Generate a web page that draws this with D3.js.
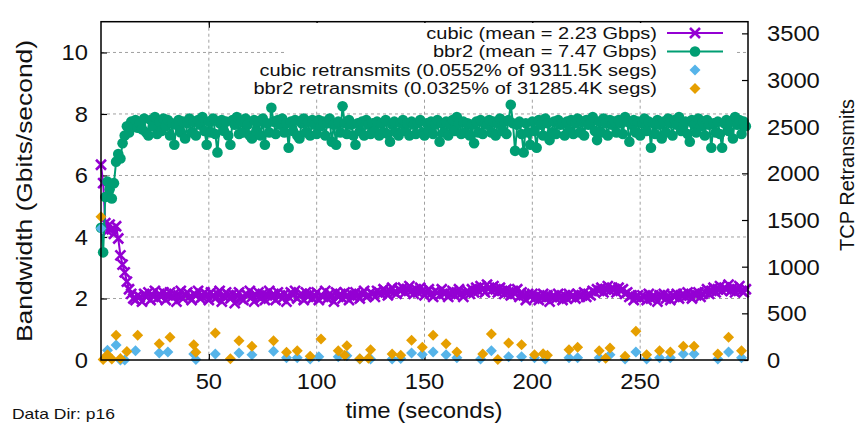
<!DOCTYPE html>
<html>
<head>
<meta charset="utf-8">
<script src="https://cdn.jsdelivr.net/npm/d3@7"></script>
<style>
  body { margin: 0; background: #fff; }
  svg { display: block; font-family: "Liberation Sans", Arial, sans-serif; }
</style>
</head>
<body>
<div class="chart"></div>
<script>
// frame
let FRAME_WIDTH = 858;
let FRAME_HEIGHT = 424;
let PLOT = {left: 101, right: 748, top: 21.7, bottom: 360};

// bandwidth samples, one per second starting at t = 0 (Gbit/s)
const CUBIC_BW = [
  6.35, 5.75, 4.45, 4.2, 4.4, 4.25, 4.1, 4.35, 3.95, 3.4,
  3.1, 2.85, 2.55, 2.3, 2.15, 2.0, 1.95, 2.1, 2.05, 1.9,
  2.15, 2.05, 2.2, 1.95, 2.1, 2.25, 2.0, 2.15, 2.05, 2.2,
  1.95, 2.1, 2.2, 2.05, 2.15, 1.9, 2.1, 2.25, 2.0, 2.1,
  2.2, 2.05, 1.95, 2.15, 2.1, 2.25, 2.0, 2.05, 2.2, 2.1,
  1.95, 2.2, 2.1, 2.0, 2.15, 2.25, 1.9, 2.05, 2.2, 2.1,
  2.0, 2.15, 1.85, 2.1, 2.2, 2.0, 1.95, 2.15, 2.1, 2.25,
  2.05, 1.9, 2.1, 2.2, 2.0, 2.15, 1.95, 2.1, 2.25, 2.05,
  2.15, 1.95, 2.2, 2.1, 2.0, 2.15, 1.9, 2.05, 2.2, 2.1,
  2.25, 2.0, 2.1, 2.15, 1.95, 2.2, 2.05, 2.15, 2.0, 2.1,
  2.2, 1.95, 2.1, 2.05, 2.25, 2.0, 2.15, 2.1, 1.9, 2.2,
  2.05, 2.15, 2.0, 2.2, 2.1, 1.95, 2.15, 2.05, 2.2, 2.1,
  2.0, 2.15, 2.25, 2.05, 2.1, 2.2, 2.15, 2.05, 2.25, 2.2,
  2.15, 2.3, 2.2, 2.1, 2.25, 2.35, 2.2, 2.15, 2.3, 2.25,
  2.35, 2.2, 2.3, 2.4, 2.25, 2.15, 2.3, 2.2, 2.35, 2.25,
  2.1, 2.2, 2.3, 2.15, 2.05, 2.25, 2.2, 2.1, 2.3, 2.15,
  2.2, 2.05, 2.15, 2.25, 2.1, 2.2, 2.3, 2.15, 2.05, 2.2,
  2.25, 2.15, 2.3, 2.2, 2.35, 2.25, 2.4, 2.3, 2.2, 2.45,
  2.35, 2.25, 2.4, 2.3, 2.2, 2.35, 2.25, 2.15, 2.3, 2.2,
  2.1, 2.25, 2.15, 2.3, 2.05, 2.2, 2.1, 1.95, 2.15, 2.05,
  2.15, 2.0, 2.1, 1.95, 2.05, 2.15, 2.0, 2.1, 1.9, 2.05,
  2.1, 2.0, 2.15, 2.05, 1.95, 2.1, 2.0, 2.15, 2.05, 2.1,
  2.0, 2.15, 2.05, 2.1, 2.2, 2.05, 2.15, 2.1, 2.25, 2.2,
  2.3, 2.25, 2.35, 2.2, 2.3, 2.4, 2.25, 2.35, 2.3, 2.2,
  2.35, 2.25, 2.3, 2.15, 2.2, 2.05, 2.1, 1.95, 2.05, 2.1,
  2.0, 2.1, 2.05, 1.95, 2.15, 2.0, 2.1, 2.05, 1.9, 2.1,
  2.05, 2.15, 2.0, 2.1, 1.95, 2.1, 2.05, 2.15, 2.0, 2.1,
  2.15, 2.05, 2.2, 2.1, 2.0, 2.15, 2.1, 2.2, 2.05, 2.15,
  2.2, 2.3, 2.15, 2.25, 2.35, 2.2, 2.3, 2.4, 2.25, 2.35,
  2.3, 2.45, 2.25, 2.35, 2.2, 2.3, 2.4, 2.25, 2.2, 2.3
];

const BBR2_BW = [
  4.3, 3.5, 5.3, 5.8, 5.55, 5.25, 5.75, 6.45, 6.7, 6.55,
  7.05, 7.3, 7.6, 7.4, 7.75, 7.6, 7.8, 7.55, 7.7, 7.5,
  7.85, 7.4, 7.3, 7.8, 7.6, 7.9, 7.35, 7.75, 7.45, 7.85,
  7.6, 7.8, 7.3, 7.7, 7.0, 7.65, 7.8, 7.4, 7.75, 7.2,
  7.7, 7.85, 7.4, 7.75, 7.3, 7.8, 7.65, 7.9, 7.45, 7.0,
  7.75, 7.4, 7.85, 7.35, 6.75, 7.7, 7.8, 7.45, 7.75, 7.3,
  7.0, 7.8, 7.65, 7.9, 7.35, 7.75, 7.4, 7.85, 7.65, 7.3,
  7.2, 7.8, 7.45, 7.75, 7.3, 7.85, 7.0, 7.7, 7.4, 8.2,
  7.75, 7.35, 7.8, 7.65, 7.85, 7.4, 7.7, 6.9, 7.75, 7.45,
  7.8, 7.3, 7.2, 7.7, 7.85, 7.4, 7.75, 7.3, 7.8, 7.65,
  7.35, 7.8, 7.6, 7.75, 7.3, 7.7, 7.85, 7.1, 7.65, 7.0,
  7.75, 7.4, 8.25, 7.7, 7.35, 7.8, 7.65, 7.3, 7.0, 7.7,
  7.45, 7.75, 7.3, 7.8, 7.65, 7.35, 7.7, 7.45, 7.75, 7.3,
  7.7, 7.4, 7.8, 7.35, 7.1, 7.65, 7.75, 7.4, 7.3, 7.7,
  7.8, 7.45, 7.7, 7.3, 7.75, 7.65, 7.35, 7.7, 7.8, 7.4,
  7.3, 7.7, 7.45, 7.75, 7.35, 7.65, 7.8, 7.1, 7.7, 7.4,
  7.75, 7.3, 7.65, 7.8, 7.45, 7.9, 7.7, 7.35, 7.75, 7.4,
  7.7, 7.3, 7.65, 7.05, 7.75, 7.4, 7.8, 7.35, 7.7, 7.65,
  7.8, 7.4, 7.75, 7.3, 7.7, 7.85, 7.45, 7.75, 7.35, 7.8,
  8.3, 7.7, 6.8, 7.65, 7.75, 7.35, 6.75, 7.7, 7.4, 7.0,
  7.75, 7.45, 6.9, 7.8, 7.65, 7.3, 7.85, 7.7, 7.15, 7.4,
  7.75, 7.35, 7.8, 7.65, 7.7, 7.3, 7.75, 7.45, 7.8, 7.35,
  7.7, 7.85, 7.4, 7.75, 7.3, 7.8, 7.65, 7.7, 7.9, 7.45,
  7.15, 7.75, 7.4, 7.85, 7.7, 7.3, 7.8, 7.65, 7.75, 7.4,
  7.8, 7.7, 7.35, 7.9, 7.75, 7.1, 7.65, 7.8, 7.4, 7.75,
  7.3, 7.7, 7.85, 7.45, 7.75, 6.9, 7.7, 7.35, 7.8, 7.65,
  7.2, 7.75, 7.4, 7.85, 7.7, 7.3, 7.8, 7.65, 7.9, 7.45,
  7.6, 7.75, 7.35, 7.1, 7.8, 7.65, 7.4, 7.85, 7.6, 7.75,
  7.3, 7.8, 7.65, 6.9, 7.7, 7.4, 7.75, 7.35, 6.9, 7.7,
  7.8, 7.45, 7.75, 7.2, 7.9, 7.65, 7.8, 7.35, 7.75, 7.6
];

// retransmits: seconds and counts
const CUBIC_RT_T = [0, 3, 7, 9, 11, 16, 27, 31, 43, 44, 53, 64, 70, 80, 86, 91, 97, 101, 110, 114,
  120, 125, 135, 139, 144, 149, 154, 160, 165, 176, 181, 189, 195, 201, 206, 217, 221, 231, 236, 243,
  248, 253, 259, 264, 270, 275, 286, 291, 297];
const CUBIC_RT_N = [1410, 105, 160, 0, 0, 100, 75, 86, 64, 5, 64, 75, 55, 93, 25, 25, 10, 35, 35, 45,
  10, 10, 10, 15, 75, 60, 86, 57, 25, 10, 100, 35, 35, 25, 10, 25, 25, 25, 57, 10,
  86, 10, 25, 25, 64, 64, 10, 86, 25];

const BBR2_RT_T = [0, 1, 3, 5, 7, 9, 12, 17, 27, 32, 43, 44, 53, 60, 64, 70, 80, 86, 91, 97,
  102, 110, 113, 114, 120, 124, 125, 135, 139, 144, 149, 154, 160, 165, 177, 181, 184, 189, 195, 201,
  205, 207, 217, 221, 231, 234, 236, 243, 248, 253, 259, 264, 270, 275, 286, 291, 297];
const BBR2_RT_N = [1535, 5, 55, 10, 265, 15, 90, 265, 175, 243, 164, 82, 289, 14, 207, 146, 207, 82, 100, 39,
  225, 100, 50, 154, 14, 20, 111, 64, 50, 211, 136, 265, 175, 86, 64, 279, 5, 182, 164, 57,
  68, 50, 111, 136, 100, 20, 129, 39, 307, 57, 100, 86, 146, 146, 64, 243, 100];

// tick labels
const X_TICKS = [50, 100, 150, 200, 250];
const Y_TICKS = [0, 2, 4, 6, 8, 10];
const Y2_TICKS = [0, 500, 1000, 1500, 2000, 2500, 3000, 3500];

const LEGEND_LABELS = ["cubic (mean = 2.23 Gbps)", "bbr2 (mean = 7.47 Gbps)",
  "cubic retransmits (0.0552% of 9311.5K segs)", "bbr2 retransmits (0.0325% of 31285.4K segs)"];

const PURPLE = "#9400d3", GREEN = "#009e73", BLUE = "#56b4e9", ORANGE = "#e69f00";

const SVG = d3.select(".chart").append("svg")
  .attr("width", FRAME_WIDTH)
  .attr("height", FRAME_HEIGHT);

const X_SCALE = d3.scaleLinear().domain([0, 300]).range([PLOT.left, PLOT.right]);
const Y_SCALE = d3.scaleLinear().domain([0, 11]).range([PLOT.bottom, PLOT.top]);
const Y2_SCALE = d3.scaleLinear().domain([0, 3625]).range([PLOT.bottom, PLOT.top]);

// text with a little horizontal stretch, the original font runs wide
function addText(x, y, str, size, sx, anchor, rot) {
  return SVG.append("text")
    .attr("transform", "translate(" + x + "," + y + ") rotate(" + (rot || 0) + ") scale(" + sx + ",1)")
    .attr("text-anchor", anchor)
    .attr("font-size", size)
    .attr("fill", "#111")
    .text(str);
}

// grid
SVG.append("g").selectAll("line").data(X_TICKS).enter().append("line")
  .attr("x1", (d) => X_SCALE(d)).attr("x2", (d) => X_SCALE(d))
  .attr("y1", PLOT.top).attr("y2", PLOT.bottom)
  .attr("stroke", "#a0a0a0").attr("stroke-dasharray", "3,3");
SVG.append("g").selectAll("line").data(Y_TICKS.slice(1)).enter().append("line")
  .attr("x1", PLOT.left).attr("x2", PLOT.right)
  .attr("y1", (d) => Y_SCALE(d)).attr("y2", (d) => Y_SCALE(d))
  .attr("stroke", "#a0a0a0").attr("stroke-dasharray", "3,3");

// axes with inward ticks
SVG.append("g").attr("transform", "translate(0," + PLOT.bottom + ")")
  .call(d3.axisTop(X_SCALE).tickValues(X_TICKS).tickSize(6).tickFormat(""))
  .call((g) => g.select(".domain").remove());
SVG.append("g").attr("transform", "translate(0," + PLOT.top + ")")
  .call(d3.axisBottom(X_SCALE).tickValues(X_TICKS).tickSize(6).tickFormat(""))
  .call((g) => g.select(".domain").remove());
SVG.append("g").attr("transform", "translate(" + PLOT.left + ",0)")
  .call(d3.axisRight(Y_SCALE).tickValues(Y_TICKS).tickSize(6).tickFormat(""))
  .call((g) => g.select(".domain").remove());
SVG.append("g").attr("transform", "translate(" + PLOT.right + ",0)")
  .call(d3.axisLeft(Y2_SCALE).tickValues(Y2_TICKS).tickSize(6).tickFormat(""))
  .call((g) => g.select(".domain").remove());
SVG.selectAll(".tick line").attr("stroke", "#000").attr("stroke-width", 1.2);

X_TICKS.forEach((d) => addText(X_SCALE(d), 389, d, 22, 1.08, "middle"));
Y_TICKS.forEach((d) => addText(88, Y_SCALE(d) + 8, d, 22, 1.08, "end"));
Y2_TICKS.forEach((d) => addText(767, Y2_SCALE(d) + 8, d, 22, 1.08, "start"));

// series
const cubicPts = CUBIC_BW.map((v, i) => [i, v]);
const bbrPts = BBR2_BW.map((v, i) => [i, v]);
const line = d3.line().x((d) => X_SCALE(d[0])).y((d) => Y_SCALE(d[1]));

const X_MARK = "M-5,-5L5,5M-5,5L5,-5";
const DIAMOND = "M0,-5.5L5.5,0L0,5.5L-5.5,0Z";

SVG.append("path").datum(cubicPts).attr("d", line)
  .attr("fill", "none").attr("stroke", PURPLE).attr("stroke-width", 2);
SVG.append("g").selectAll("path").data(cubicPts).enter().append("path")
  .attr("transform", (d) => "translate(" + X_SCALE(d[0]) + "," + Y_SCALE(d[1]) + ")")
  .attr("d", X_MARK).attr("stroke", PURPLE).attr("stroke-width", 2.6);

SVG.append("path").datum(bbrPts).attr("d", line)
  .attr("fill", "none").attr("stroke", GREEN).attr("stroke-width", 2);
SVG.append("g").selectAll("circle").data(bbrPts).enter().append("circle")
  .attr("cx", (d) => X_SCALE(d[0])).attr("cy", (d) => Y_SCALE(d[1]))
  .attr("r", 5.3).attr("fill", GREEN);

SVG.append("g").selectAll("path").data(CUBIC_RT_T).enter().append("path")
  .attr("transform", (d, i) => "translate(" + X_SCALE(d) + "," + Y2_SCALE(CUBIC_RT_N[i]) + ")")
  .attr("d", DIAMOND).attr("fill", BLUE);
SVG.append("g").selectAll("path").data(BBR2_RT_T).enter().append("path")
  .attr("transform", (d, i) => "translate(" + X_SCALE(d) + "," + Y2_SCALE(BBR2_RT_N[i]) + ")")
  .attr("d", DIAMOND).attr("fill", ORANGE);

// opaque key
SVG.append("rect").attr("x", 287).attr("y", 23).attr("width", 449).attr("height", 74).attr("fill", "#fff");
const ROW_Y = [33, 51.5, 70, 88.5];
LEGEND_LABELS.forEach((s, i) => addText(657, ROW_Y[i] + 5.5, s, 16, 1.25, "end"));
SVG.append("line").attr("x1", 667).attr("x2", 723).attr("y1", ROW_Y[0]).attr("y2", ROW_Y[0])
  .attr("stroke", PURPLE).attr("stroke-width", 2);
SVG.append("path").attr("transform", "translate(695," + ROW_Y[0] + ")").attr("d", X_MARK)
  .attr("stroke", PURPLE).attr("stroke-width", 2.6);
SVG.append("line").attr("x1", 667).attr("x2", 723).attr("y1", ROW_Y[1]).attr("y2", ROW_Y[1])
  .attr("stroke", GREEN).attr("stroke-width", 2);
SVG.append("circle").attr("cx", 695).attr("cy", ROW_Y[1]).attr("r", 5.3).attr("fill", GREEN);
SVG.append("path").attr("transform", "translate(695," + ROW_Y[2] + ")").attr("d", DIAMOND).attr("fill", BLUE);
SVG.append("path").attr("transform", "translate(695," + ROW_Y[3] + ")").attr("d", DIAMOND).attr("fill", ORANGE);

// border
SVG.append("rect").attr("x", PLOT.left).attr("y", PLOT.top)
  .attr("width", PLOT.right - PLOT.left).attr("height", PLOT.bottom - PLOT.top)
  .attr("fill", "none").attr("stroke", "#000").attr("stroke-width", 1.5);

// axis titles
addText(424, 418, "time (seconds)", 22, 1.09, "middle");
addText(32, 191, "Bandwidth (Gbits/second)", 22, 1.2, "middle", -90);
addText(854, 175, "TCP Retransmits", 20, 1.0, "middle", -90);
addText(12, 419, "Data Dir: p16", 14, 1.25, "start");
</script>
</body>
</html>
